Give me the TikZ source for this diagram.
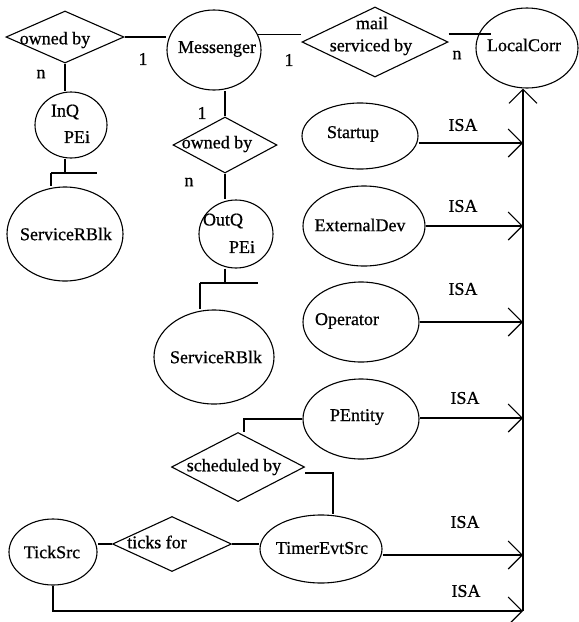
\documentclass[tikz,border=0pt]{standalone}
\usepackage{fontspec}
\setmainfont{Liberation Serif}[BoldFont={Liberation Serif},BoldFeatures={FakeBold=0.7}]
\usetikzlibrary{shapes.geometric,arrows.meta}
\begin{document}
\begin{tikzpicture}[x=1pt,y=-1pt,
  ent/.style={ellipse,draw,line width=1.1pt,inner sep=0pt},
  rel/.style={diamond,draw,line width=1.1pt,inner sep=0pt},
  txt/.style={inner sep=0pt,font=\fontsize{18}{20}\selectfont\bfseries},
  link/.style={line width=1.1pt},
  isa/.style={line width=1.1pt,-{Straight Barb[length=14pt,width=28pt]}}]
\useasboundingbox[fill=white] (0,0) rectangle (579,622);

% ---------- entities ----------
\node[ent,minimum width=94pt,minimum height=80pt]  (messenger) at (214,50) {};
\node[ent,minimum width=102pt,minimum height=80pt] (localcorr) at (527,48) {};
\node[ent,minimum width=72pt,minimum height=66pt]  (inq)       at (71,125) {};
\node[ent,minimum width=116pt,minimum height=94pt] (srb1)      at (65,234) {};
\node[ent,minimum width=74pt,minimum height=68pt]  (outq)      at (236,234) {};
\node[ent,minimum width=120pt,minimum height=94pt] (srb2)      at (214,357) {};
\node[ent,minimum width=116pt,minimum height=66pt] (startup)   at (360,136) {};
\node[ent,minimum width=122pt,minimum height=80pt] (extdev)    at (364,226) {};
\node[ent,minimum width=116pt,minimum height=80pt] (operator)  at (361,322) {};
\node[ent,minimum width=116pt,minimum height=80pt] (pentity)   at (361,419) {};
\node[ent,minimum width=122pt,minimum height=68pt] (timer)     at (321,549) {};
\node[ent,minimum width=88pt,minimum height=66pt]  (ticksrc)   at (53,552) {};

% ---------- relationships ----------
\node[rel,minimum width=118pt,minimum height=52pt] (own1)  at (65,37) {};
\node[rel,minimum width=146pt,minimum height=70pt] (mail)  at (375,42) {};
\node[rel,minimum width=104pt,minimum height=56pt] (own2)  at (225,145) {};
\node[rel,minimum width=133pt,minimum height=69pt] (sched) at (238,467) {};
\node[rel,minimum width=119pt,minimum height=55pt] (ticks) at (172,544) {};

% ---------- texts ----------
\node[txt] (messenger-t) at (217,49)  {Messenger};
\node[txt] (localcorr-t) at (524,45)  {LocalCorr};
\node[txt] (inq-t1)      at (65,112)  {InQ};
\node[txt] (inq-t2)      at (77,137)  {PEi};
\node[txt] (srb1-t)      at (66,234)  {ServiceRBlk};
\node[txt] (outq-t1)     at (223,221) {OutQ};
\node[txt] (outq-t2)     at (242,247) {PEi};
\node[txt] (srb2-t)      at (216,357) {ServiceRBlk};
\node[txt] (startup-t)   at (353,134) {Startup};
\node[txt] (extdev-t)    at (360,225) {ExternalDev};
\node[txt] (operator-t)  at (347,321) {Operator};
\node[txt] (pentity-t)   at (357,417) {PEntity};
\node[txt] (timer-t)     at (322,548) {TimerEvtSrc};
\node[txt] (ticksrc-t)   at (52,552)  {TickSrc};
\node[txt] (own1-t)      at (55,40)   {owned by};
\node[txt] (mail-t1)     at (372,23)  {mail};
\node[txt] (mail-t2)     at (371,47)  {serviced by};
\node[txt] (own2-t)      at (217,144) {owned by};
\node[txt] (sched-t)     at (234,467) {scheduled by};
\node[txt] (ticks-t)     at (157,542) {ticks for};

% cardinalities
\node[txt] (c1) at (143,59)  {1};
\node[txt] (c2) at (289,60)  {1};
\node[txt] (c3) at (457,55)  {n};
\node[txt] (c4) at (41,74)   {n};
\node[txt] (c5) at (202,113) {1};
\node[txt] (c6) at (189,182) {n};

% ISA labels
\node[txt] (isa1) at (463,125) {ISA};
\node[txt] (isa2) at (463,206) {ISA};
\node[txt] (isa3) at (463,289) {ISA};
\node[txt] (isa4) at (465,398) {ISA};
\node[txt] (isa5) at (465,522) {ISA};
\node[txt] (isa6) at (466,591) {ISA};

% ---------- helper points ----------
\coordinate (mcend) at (491,34);
\coordinate (bar1L) at (51,173);
\coordinate (bar1R) at (97,173);
\coordinate (bar2L) at (200,283);
\coordinate (bar2R) at (258,283);
\coordinate (tstem) at (333,473);
\coordinate (r1) at (523,143);
\coordinate (r2) at (523,226);
\coordinate (r3) at (523,322);
\coordinate (r4) at (523,418);
\coordinate (r5) at (523,555);
\coordinate (r6) at (523,611);

% ---------- relationship links ----------
\draw[link] (own1.east) -- (own1.east -| messenger.west);
\draw[link] (messenger.20) -- (messenger.20 -| mail.west);
\draw[link] (mail.east |- mcend) -- (mcend);
\draw[link] (own1.south) -- (own1.south |- inq.north);
\draw[link] (own1.south |- inq.south) -- (own1.south |- bar1L);
\draw[link] (bar1L) -- (bar1R);
\draw[link] (bar1L) -- (bar1L |- srb1.north);
\draw[link] (own2.north) -- (own2.north |- messenger.south);
\draw[link] (own2.south) -- (own2.south |- outq.north);
\draw[link] (outq.south -| own2.south) -- (bar2L -| own2.south);
\draw[link] (bar2L) -- (bar2R);
\draw[link] (bar2L) -- (bar2L |- srb2.north);
\draw[link] (pentity.west) -| ([xshift=6pt]sched.north);
\draw[link] (sched.east |- tstem) -- (tstem) -- (tstem |- timer.north);
\draw[link] (ticks.west) -- (ticks.west -| ticksrc.east);
\draw[link] (ticks.east) -- (ticks.east -| timer.west);

% ---------- ISA hierarchy ----------
\draw[isa] (r6) -- (r6 |- localcorr.south);
\draw[isa] (startup.east |- r1) -- (r1);
\draw[isa] (extdev.east |- r2) -- (r2);
\draw[isa] (operator.east |- r3) -- (r3);
\draw[isa] (pentity.east |- r4) -- (r4);
\draw[isa] (timer.east |- r5) -- (r5);
\draw[isa] (ticksrc.south) -- (ticksrc.south |- r6) -- (r6);
\end{tikzpicture}
\end{document}
